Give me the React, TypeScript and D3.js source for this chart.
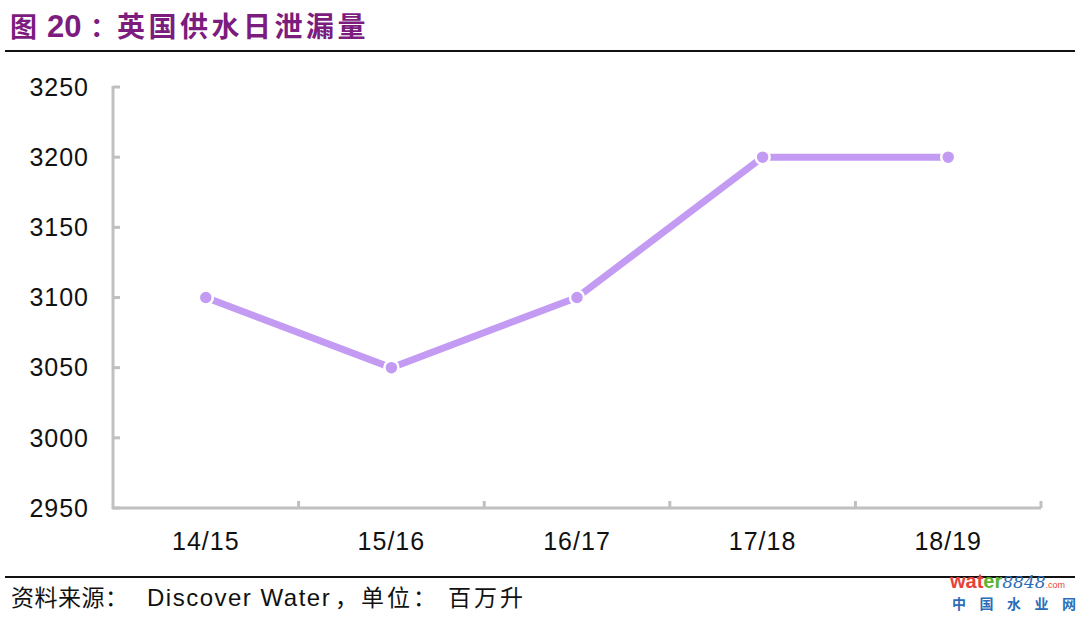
import React from "react";
import * as d3 from "d3";

const categories = ["14/15", "15/16", "16/17", "17/18", "18/19"];
const values = [3100, 3050, 3100, 3200, 3200];
const yTicks = [2950, 3000, 3050, 3100, 3150, 3200, 3250];
const watermarkChars = ["中", "国", "水", "业", "网"];

export default function App() {
  const W = 1080, H = 619;
  const left = 113, right = 1041, top = 87, bottom = 508;
  const x = d3.scaleBand<string>().domain(categories).range([left, right]);
  const y = d3.scaleLinear().domain([2950, 3250]).range([bottom, top]);
  const cx = (i: number) => (x(categories[i]) as number) + x.bandwidth() / 2;
  const line = d3
    .line<number>()
    .x((_, i) => cx(i))
    .y((d) => y(d));
  const lineColor = "#C39BF3";
  const axisColor = "#C0C0C0";
  const latin = "Arial, 'Liberation Sans', sans-serif";
  const cjk = "'Noto Sans CJK SC', sans-serif";
  const boundaries = categories.map((c) => (x(c) as number) + x.bandwidth());
  return (
    <svg
      width={W}
      height={H}
      style={{ position: "absolute", left: 0, top: 0, background: "#fff" }}
      fontFamily={latin}
    >
      <rect x={0} y={0} width={W} height={H} fill="#fff" />
      <text y={37} fill="#7B1C7E" fontWeight="bold">
        <tspan x={10} fontSize={27} fontFamily={cjk}>图</tspan>
        <tspan x={47} fontSize={31} fontFamily={latin}>20</tspan>
        <tspan x={90} fontSize={27} fontFamily={cjk}>：</tspan>
        <tspan x={117} fontSize={28} fontFamily={cjk} letterSpacing={3.5}>英国供水日泄漏量</tspan>
      </text>
      <line x1={5} x2={1075} y1={51} y2={51} stroke="#111" strokeWidth={2} />
      {/* y axis */}
      <line x1={left} x2={left} y1={top - 1} y2={bottom + 1} stroke={axisColor} strokeWidth={3} />
      {yTicks.map((t) => (
        <g key={t}>
          <line x1={left} x2={left + 7} y1={y(t)} y2={y(t)} stroke={axisColor} strokeWidth={3} />
          <text x={89} y={y(t)} dy="0.35em" textAnchor="end" fontSize={25} letterSpacing={1} fill="#111">
            {t}
          </text>
        </g>
      ))}
      {/* x axis */}
      <line x1={left - 1} x2={right} y1={bottom} y2={bottom} stroke={axisColor} strokeWidth={3} />
      {boundaries.map((b, i) => (
        <line key={i} x1={b} x2={b} y1={bottom} y2={bottom - 7} stroke={axisColor} strokeWidth={3} />
      ))}
      {categories.map((c, i) => (
        <text key={c} x={cx(i)} y={550} textAnchor="middle" fontSize={25} letterSpacing={1} fill="#111">
          {c}
        </text>
      ))}
      <path d={line(values) || ""} fill="none" stroke={lineColor} strokeWidth={7} />
      {values.map((v, i) => (
        <circle key={i} cx={cx(i)} cy={y(v)} r={7} fill={lineColor} stroke="#fff" strokeWidth={2.5} />
      ))}
      <line x1={5} x2={1075} y1={577} y2={577} stroke="#111" strokeWidth={2} />
      <text y={606} fill="#111" fontSize={23}>
        <tspan x={11} fontFamily={cjk} letterSpacing={0.5}>资料来源：</tspan>
        <tspan x={147} fontFamily={latin} fontSize={24} letterSpacing={1.5}>Discover Water</tspan>
        <tspan x={335} fontFamily={cjk}>，</tspan>
        <tspan x={361} fontFamily={cjk} letterSpacing={3}>单位：</tspan>
        <tspan x={448} fontFamily={cjk} letterSpacing={3}>百万升</tspan>
      </text>
      <text x={950} y={588} fontSize={20} fontWeight="bold" fill="#E8413A" fontFamily={latin}>
        wat<tspan fill="#5BB531">er</tspan>
        <tspan fill="#2B6DB8" fontStyle="italic" fontWeight="normal" fontSize={17} fontFamily="'DejaVu Serif', serif">8848</tspan>
        <tspan fill="#E8413A" fontSize={9} fontWeight="normal">.com</tspan>
      </text>
      {watermarkChars.map((ch, i) => (
        <text key={ch} x={952 + i * 27.5} y={609} fontSize={14} fill="#2B6DB8" fontWeight="bold" fontFamily={cjk}>
          {ch}
        </text>
      ))}
    </svg>
  );
}
